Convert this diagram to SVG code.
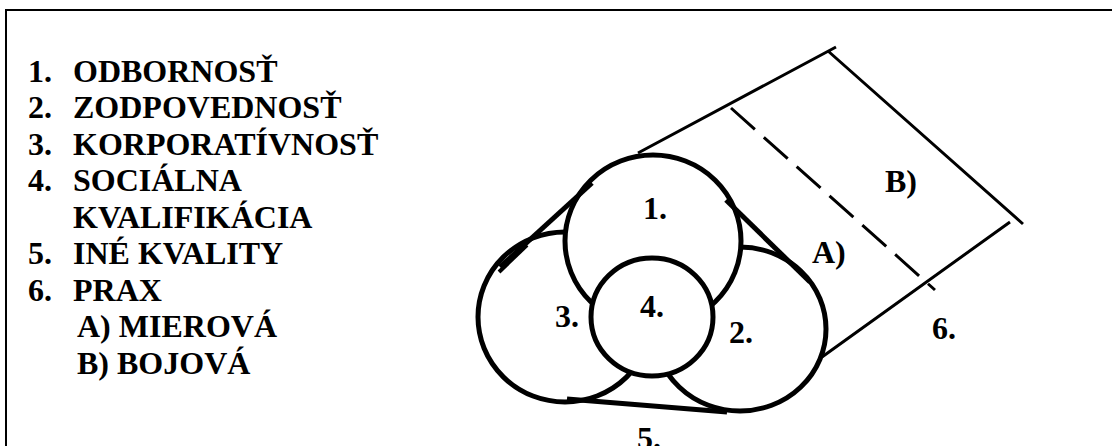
<svg xmlns="http://www.w3.org/2000/svg" width="1112" height="446" viewBox="0 0 1112 446">
<style>
text { font-family: "Liberation Serif", "Times New Roman", serif; font-weight: bold; font-size: 32px; fill: #000; }
.ring { fill: #fff; stroke: #000; stroke-width: 5; }
.thick { stroke: #000; stroke-width: 5; fill: none; }
.thin { stroke: #000; stroke-width: 3; fill: none; }
.dash { stroke-dasharray: 32 12; }
.frame { stroke: #000; stroke-width: 2; fill: none; }
</style>
<rect width="1112" height="446" fill="#fff"/>
<path class="frame" d="M6,446 V10 H1112"/>
<g id="legend">
  <text x="28" y="82">1.</text><text x="73" y="82">ODBORNOSŤ</text>
  <text x="28" y="118">2.</text><text x="73" y="118">ZODPOVEDNOSŤ</text>
  <text x="28" y="155">3.</text><text x="73" y="155">KORPORATÍVNOSŤ</text>
  <text x="28" y="191">4.</text><text x="73" y="191">SOCIÁLNA</text>
  <text x="73" y="228">KVALIFIKÁCIA</text>
  <text x="28" y="264">5.</text><text x="73" y="264">INÉ KVALITY</text>
  <text x="28" y="301">6.</text><text x="73" y="301">PRAX</text>
  <text x="77" y="337">A) MIEROVÁ</text>
  <text x="77" y="374">B) BOJOVÁ</text>
</g>
<g id="node-3"><ellipse class="ring" cx="565" cy="317" rx="87" ry="85"/><text x="555" y="327">3.</text></g>
<g id="node-2"><ellipse class="ring" cx="740" cy="329" rx="86" ry="82"/><text x="729" y="343">2.</text></g>
<g id="node-1"><ellipse class="ring" cx="653" cy="241" rx="88" ry="86"/><text x="643" y="219">1.</text></g>
<g id="node-4"><ellipse class="ring" cx="652" cy="317" rx="61" ry="59"/><text x="640" y="317">4.</text></g>
<g id="node-6">
  <path class="thin" d="M638,153 L836,47 M828,51 L1023,224 M1010,222 L822,357"/>
  <path class="thin dash" d="M731,108 L935,290"/>
  <text x="812" y="263">A)</text>
  <text x="885" y="192">B)</text>
  <text x="932" y="339">6.</text>
</g>
<g id="node-5"><text x="637" y="449">5.</text></g>
<g id="connectors">
  <path class="thick" d="M500,267 L592,183"/>
  <path class="thick" d="M499,272 L527,245" style="stroke-width:4"/>
  <path class="thick" d="M726,200 L810,282"/>
  <path class="thick" d="M567,399 L727,412"/>
</g>
</svg>
